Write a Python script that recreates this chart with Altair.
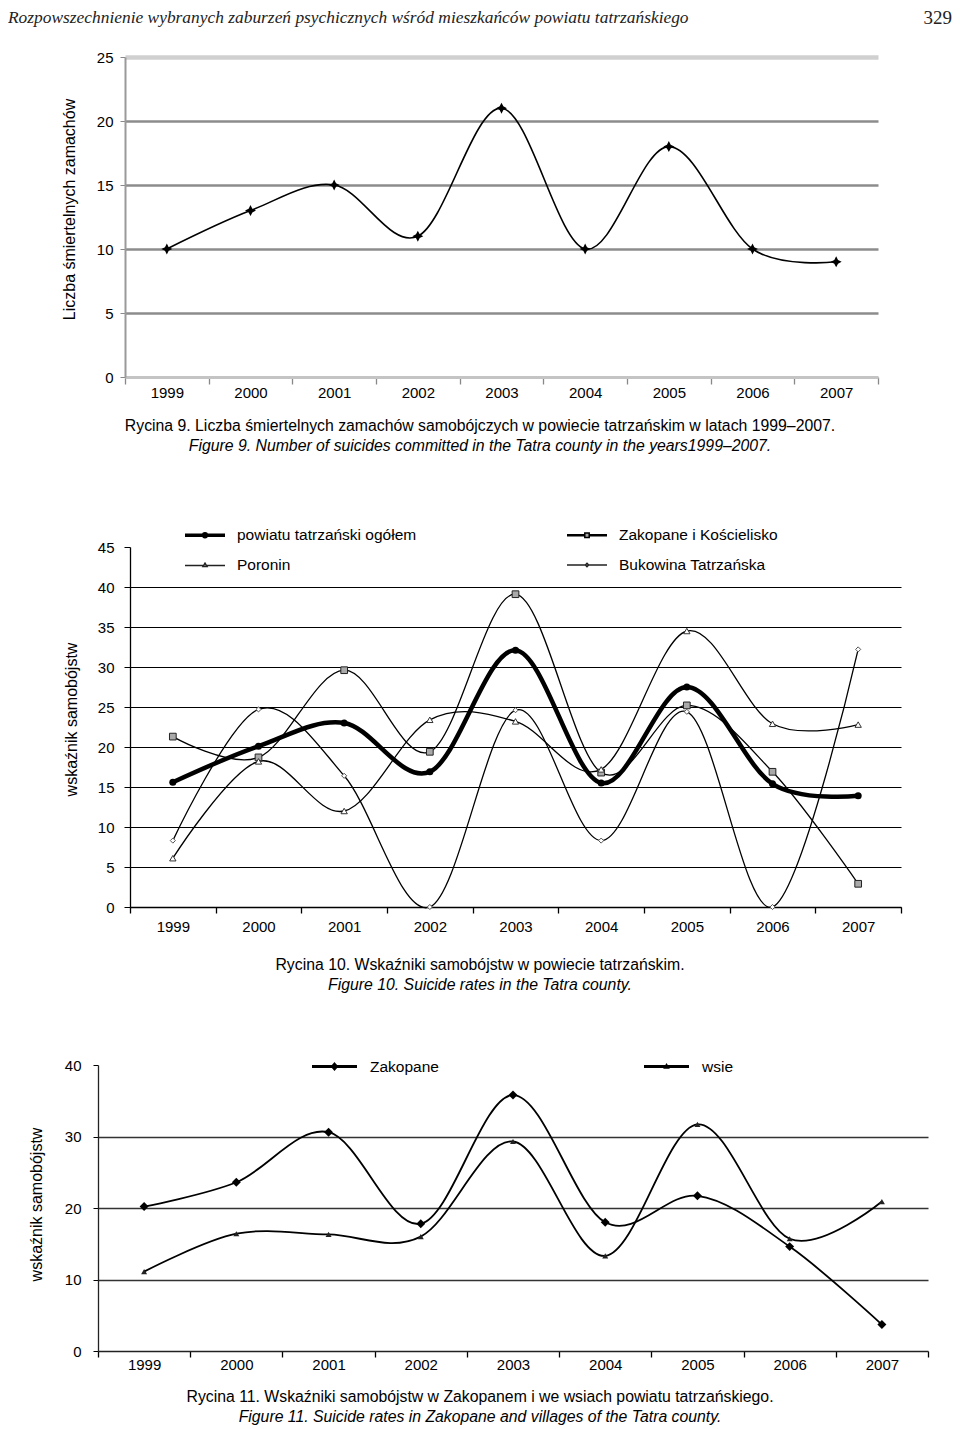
import altair as alt
import pandas as pd

# ---------------- data ----------------
years = ["1999", "2000", "2001", "2002", "2003", "2004", "2005", "2006", "2007"]

fig9_suicides = [10, 13, 15, 11, 21, 10, 18, 10, 9]

fig10_series = ["powiatu tatrzański ogółem", "Zakopane i Kościelisko", "Poronin", "Bukowina Tatrzańska"]
fig10_ogolem = [15.6, 20.1, 23.0, 16.9, 32.1, 15.5, 27.5, 15.4, 13.9]
fig10_zakopane_koscielisko = [21.3, 18.7, 29.6, 19.4, 39.1, 16.8, 25.2, 16.9, 2.9]
fig10_poronin = [6.1, 18.2, 12.0, 23.4, 23.2, 17.2, 34.5, 22.9, 22.8]
fig10_bukowina = [8.3, 24.7, 16.4, 0.0, 24.6, 8.3, 24.4, 0.0, 32.2]

fig11_series = ["Zakopane", "wsie"]
fig11_zakopane = [20.2, 23.6, 30.6, 17.8, 35.8, 18.0, 21.7, 14.6, 3.7]
fig11_wsie = [11.1, 16.4, 16.3, 16.0, 29.3, 13.3, 31.7, 15.7, 20.9]

header_left = "Rozpowszechnienie wybranych zaburzeń psychicznych wśród mieszkańców powiatu tatrzańskiego"
header_right = "329"
fig9_ytitle = "Liczba śmiertelnych zamachów"
fig9_caption = ["Rycina 9.  Liczba śmiertelnych zamachów samobójczych w powiecie tatrzańskim w latach 1999–2007.",
                "Figure 9.  Number of suicides committed in the Tatra county in the years1999–2007."]
rate_ytitle = "wskaźnik samobójstw"
fig10_caption = ["Rycina 10. Wskaźniki samobójstw w powiecie tatrzańskim.",
                 "Figure 10.  Suicide rates in the Tatra county."]
fig11_caption = ["Rycina 11.  Wskaźniki samobójstw w Zakopanem i we wsiach powiatu tatrzańskiego.",
                 "Figure 11.  Suicide rates in Zakopane and villages of the Tatra county."]

FONT = "Liberation Sans"
SERIF = "Liberation Serif"
PAGE_W = 944


def spacer(w):
    return alt.Chart(pd.DataFrame({"s": [0]})).mark_point(opacity=0).properties(width=w, height=1)


def text_layer(txt, x, y, size, style="normal", align="center", font=FONT, color="black"):
    return alt.Chart(pd.DataFrame({"t": [txt]})).mark_text(
        font=font, fontSize=size, fontStyle=style, align=align, baseline="middle", color=color
    ).encode(text="t:N", x=alt.value(x), y=alt.value(y))


def caption(lines, y1, y2, h):
    return alt.layer(
        text_layer(lines[0], PAGE_W / 2, y1, 15.8),
        text_layer(lines[1], PAGE_W / 2, y2, 15.8, style="italic"),
    ).properties(width=PAGE_W, height=h)


def x_enc(tick_color, dom_color, dom_width, tick_size, label_pad, label_size=15):
    return alt.X(
        "year:O",
        scale=alt.Scale(type="band", domain=years, paddingInner=0, paddingOuter=0),
        axis=alt.Axis(title=None, labelAngle=0, tickBand="extent", tickSize=tick_size,
                      tickColor=tick_color, tickWidth=1.3, domainColor=dom_color,
                      domainWidth=dom_width, labelFont=FONT, labelFontSize=label_size,
                      labelColor="black", labelPadding=label_pad, grid=False),
    )


def indep(c):
    return c.resolve_scale(shape="independent", fill="independent", stroke="independent").resolve_legend(
        shape="independent", fill="independent", stroke="independent")


# ---------------- header ----------------
header = alt.layer(
    text_layer(header_left, 0, 10, 17.4, style="italic", align="left", font=SERIF, color="#222"),
    text_layer(header_right, PAGE_W, 10, 19, align="right", font=SERIF, color="#222"),
).properties(width=PAGE_W, height=42)

# ---------------- figure 9 ----------------
df9 = pd.DataFrame({"year": years, "value": fig9_suicides})
star = "M0,-1L0.34,-0.34L1,0L0.34,0.34L0,1L-0.34,0.34L-1,0L-0.34,-0.34Z"
base9 = alt.Chart(df9).encode(
    x=x_enc("#888", "#c4c4c4", 3, 7, 1),
    y=alt.Y("value:Q", scale=alt.Scale(domain=[0, 25], nice=False),
            axis=alt.Axis(values=[0, 5, 10, 15, 20, 25], title=fig9_ytitle, titleX=-56, titleY=152,
                          titleAngle=270, titleBaseline="middle", titleFont=FONT, titleFontSize=16,
                          titleFontWeight="normal", titleColor="black", labelFont=FONT,
                          labelFontSize=15, labelColor="black", labelPadding=7, tickSize=5,
                          tickColor="#888", domainColor="#9a9a9a", domainWidth=2, grid=True,
                          gridColor={"condition": {"test": "datum.value === 25", "value": "#d0d0d0"},
                                     "value": "#8c8c8c"},
                          gridWidth={"condition": {"test": "datum.value === 25", "value": 4.5},
                                     "value": 2.5},
                          gridOpacity={"condition": {"test": "datum.value === 0", "value": 0},
                                       "value": 1})),
)
fig9 = alt.layer(
    base9.mark_line(interpolate="cardinal", color="black", strokeWidth=1.6),
    base9.mark_point(shape=star, filled=True, color="black", size=120, opacity=1),
).properties(width=753, height=320)

# ---------------- figure 10 ----------------
df10 = pd.DataFrame({
    "year": years * 4,
    "series": [s for s in fig10_series for _ in years],
    "value": fig10_ogolem + fig10_zakopane_koscielisko + fig10_poronin + fig10_bukowina,
})
base10 = alt.Chart(df10).encode(
    x=x_enc("black", "black", 1.3, 6, 6),
    y=alt.Y("value:Q", scale=alt.Scale(domain=[0, 45], nice=False),
            axis=alt.Axis(values=list(range(0, 50, 5)), title=rate_ytitle, titleX=-59, titleY=172,
                          titleAngle=270, titleBaseline="middle", titleFont=FONT, titleFontSize=16,
                          titleFontWeight="normal", titleColor="black", labelFont=FONT,
                          labelFontSize=15, labelColor="black", labelPadding=10, tickSize=6,
                          tickColor="black", domainColor="black", domainWidth=1.3, grid=True,
                          gridColor="black", gridWidth=1.2,
                          gridOpacity={"condition": {"test": "datum.value === 45", "value": 0},
                                       "value": 1})),
)


def only(name):
    return alt.FieldEqualPredicate(field="series", equal=name)


leg10 = alt.Legend(title=None, orient="none", legendX=54, legendY=-33, columns=2, direction="horizontal",
                   columnPadding=147, rowPadding=-9, labelFont=FONT, labelFontSize=15.5, labelColor="black",
                   labelOffset=11, labelLimit=400, symbolSize=1600, symbolStrokeColor="black",
                   symbolStrokeWidth=1.5, padding=0)
paths10 = [
    "M-1,-0.045L1,-0.045M-1,0L1,0M-1,0.045L1,0.045M-0.12,0A0.12,0.12 0 1,0 0.12,0A0.12,0.12 0 1,0 -0.12,0Z",
    "M-1,-0.02L-0.11,-0.02M0.11,-0.02L1,-0.02M-1,0.02L-0.11,0.02M0.11,0.02L1,0.02M-0.11,-0.11L0.11,-0.11L0.11,0.11L-0.11,0.11Z",
    "M-1,0.02L-0.1,0.02M0.1,0.02L1,0.02M0,-0.09L0.1,0.08L-0.1,0.08Z",
    "M-1,0L-0.08,0M0.08,0L1,0M0,-0.08L0.08,0L0,0.08L-0.08,0Z",
]
fills10 = ["black", "#a9a9a9", "white", "white"]
strokes10 = ["black", "black", "#222", "#222"]

fig10 = indep(alt.layer(
    base10.transform_filter(only(fig10_series[0])).mark_line(interpolate="cardinal", color="black", strokeWidth=4.5),
    base10.transform_filter(alt.FieldOneOfPredicate(field="series", oneOf=fig10_series[1:])).mark_line(
        interpolate="cardinal", color="black", strokeWidth=1.3).encode(detail="series:N"),
    base10.transform_filter(only(fig10_series[0])).mark_point(shape="circle", filled=True, color="black", size=50, opacity=1),
    base10.transform_filter(only(fig10_series[1])).mark_point(shape="square", filled=True, fill="#a9a9a9", stroke="#222", strokeWidth=1, size=45, opacity=1),
    base10.transform_filter(only(fig10_series[2])).mark_point(shape="triangle-up", filled=True, fill="white", stroke="#333", strokeWidth=1, size=40, opacity=1),
    base10.transform_filter(only(fig10_series[3])).mark_point(shape="diamond", filled=True, fill="white", stroke="#555", strokeWidth=1, size=26, opacity=1),
    base10.transform_filter("false").mark_point(size=1600, filled=False, strokeWidth=1.5, opacity=1).encode(
        shape=alt.Shape("series:N", scale=alt.Scale(domain=fig10_series, range=paths10), legend=leg10),
        fill=alt.Fill("series:N", scale=alt.Scale(domain=fig10_series, range=fills10), legend=leg10),
        stroke=alt.Stroke("series:N", scale=alt.Scale(domain=fig10_series, range=strokes10), legend=leg10),
    ),
).properties(width=771, height=360))

# ---------------- figure 11 ----------------
df11 = pd.DataFrame({
    "year": years * 2,
    "series": [s for s in fig11_series for _ in years],
    "value": fig11_zakopane + fig11_wsie,
})
base11 = alt.Chart(df11).encode(
    x=x_enc("black", "#222", 1.6, 6, 0),
    y=alt.Y("value:Q", scale=alt.Scale(domain=[0, 40], nice=False),
            axis=alt.Axis(values=[0, 10, 20, 30, 40], title=rate_ytitle, titleX=-62, titleY=139,
                          titleAngle=270, titleBaseline="middle", titleFont=FONT, titleFontSize=16,
                          titleFontWeight="normal", titleColor="black", labelFont=FONT,
                          labelFontSize=15, labelColor="black", labelPadding=12, tickSize=5,
                          tickColor="black", domainColor="#222", domainWidth=1.3, grid=True,
                          gridColor="#333", gridWidth=1.7,
                          gridOpacity={"condition": {"test": "datum.value === 40 || datum.value === 0", "value": 0},
                                       "value": 1})),
)
leg11 = alt.Legend(title=None, orient="none", legendX=213, legendY=-22, columns=2, direction="horizontal",
                   columnPadding=202, labelFont=FONT, labelFontSize=15.5, labelColor="black", labelOffset=12,
                   labelLimit=300, symbolSize=2025, symbolStrokeColor="black", symbolStrokeWidth=1.5, padding=0)
paths11 = [
    "M-1,-0.03L1,-0.03M-1,0.03L1,0.03M0,-0.15L0.13,0L0,0.15L-0.13,0Z",
    "M-1,-0.03L1,-0.03M-1,0.03L1,0.03M0,-0.09L0.09,0.07L-0.09,0.07Z",
]
fills11 = ["black", "#222"]
strokes11 = ["black", "black"]
fig11 = indep(alt.layer(
    base11.mark_line(interpolate="cardinal", color="black", strokeWidth=1.8).encode(detail="series:N"),
    base11.transform_filter(only(fig11_series[0])).mark_point(shape="diamond", filled=True, color="black", size=80, opacity=1),
    base11.transform_filter(only(fig11_series[1])).mark_point(shape="triangle-up", filled=True, color="#222", size=36, opacity=1),
    base11.transform_filter("false").mark_point(size=2025, filled=False, strokeWidth=1.5, opacity=1).encode(
        shape=alt.Shape("series:N", scale=alt.Scale(domain=fig11_series, range=paths11), legend=leg11),
        fill=alt.Fill("series:N", scale=alt.Scale(domain=fig11_series, range=fills11), legend=leg11),
        stroke=alt.Stroke("series:N", scale=alt.Scale(domain=fig11_series, range=strokes11), legend=leg11),
    ),
).properties(width=830, height=286))

# ---------------- page ----------------
row1 = alt.hconcat(spacer(52.5), fig9, spacing=0)
row2 = indep(alt.hconcat(spacer(54.5), fig10, spacing=0))
row3 = indep(alt.hconcat(spacer(19.5), fig11, spacing=0))

chart = indep(alt.vconcat(
    header,
    row1,
    caption(fig9_caption, 26, 46, 114),
    row2,
    caption(fig10_caption, 31, 51, 109),
    row3,
    caption(fig11_caption, 25, 45, 54),
    spacing=0,
)).properties(padding=0, background="white").configure_view(stroke=None)

chart.save("out.html", embed_options={"renderer": "svg", "actions": False})
